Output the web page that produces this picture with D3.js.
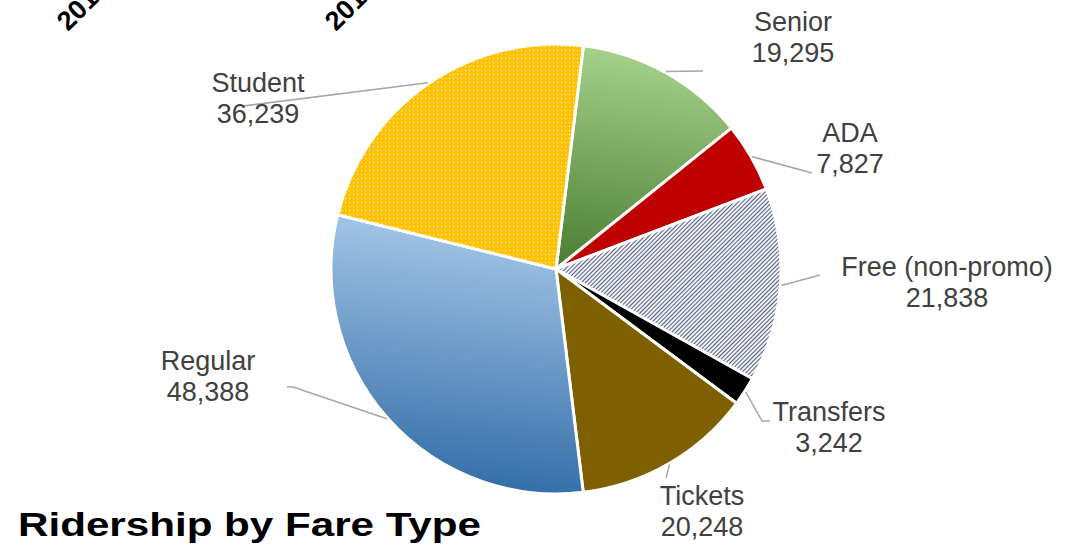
<!DOCTYPE html>
<html>
<head>
<meta charset="utf-8">
<script src="https://cdn.jsdelivr.net/npm/d3@7"></script>
<style>
  body { margin: 0; background: #fff; }
  svg { display: block; font-family: "Liberation Sans", Arial, sans-serif; }
</style>
</head>
<body>
<script>
// fare types, clockwise from the top
var fareTypes = ["Senior", "ADA", "Free (non-promo)", "Transfers", "Tickets", "Regular", "Student"];
var riders = [19295, 7827, 21838, 3242, 20248, 48388, 36239];
// axis labels of the chart above, cut off by the crop
var yearLabels = ["2016", "2017"];

var width = 1072, height = 553;
var cx = 556, cy = 269, radius = 225;

var svg = d3.select("body").append("svg")
    .attr("width", width)
    .attr("height", height);

var defs = svg.append("defs");

// gradients
function vGrad(id, top, bottom) {
  var g = defs.append("linearGradient").attr("id", id)
      .attr("x1", 0.2).attr("y1", 0).attr("x2", 0.1).attr("y2", 1);
  g.append("stop").attr("offset", "0%").attr("stop-color", top);
  g.append("stop").attr("offset", "100%").attr("stop-color", bottom);
}
vGrad("gSenior", "#a6d18a", "#4a7d31");
vGrad("gRegular", "#a3c6e8", "#2c67a3");

// student : gold with small white dots
var pDots = defs.append("pattern").attr("id", "pDots")
    .attr("width", 4).attr("height", 4).attr("patternUnits", "userSpaceOnUse");
pDots.append("rect").attr("width", 4).attr("height", 4).attr("fill", "#ffc000");
pDots.append("rect").attr("x", 1).attr("y", 1).attr("width", 1.2).attr("height", 1.2).attr("fill", "#fff3cc");

// free : fine navy hatch
var pHatch = defs.append("pattern").attr("id", "pHatch")
    .attr("width", 3).attr("height", 3).attr("patternUnits", "userSpaceOnUse")
    .attr("patternTransform", "rotate(45)");
pHatch.append("rect").attr("width", 3).attr("height", 3).attr("fill", "#eef0f4");
pHatch.append("rect").attr("width", 1).attr("height", 3).attr("fill", "#56627f");

var fills = d3.scaleOrdinal()
    .domain(fareTypes)
    .range(["url(#gSenior)", "#c00000", "url(#pHatch)", "#000000", "#7f6000", "url(#gRegular)", "url(#pDots)"]);

var startA = 7 * Math.PI / 180;
var pie = d3.pie().sort(null).value(function(d) { return d.value; })
    .startAngle(startA).endAngle(startA + 2 * Math.PI);

var data = fareTypes.map(function(n, i) { return {name: n, value: riders[i]}; });
var arcs = pie(data);

var arc = d3.arc().innerRadius(0).outerRadius(radius);

var g = svg.append("g").attr("transform", "translate(" + cx + "," + cy + ")");

g.selectAll(".slice")
    .data(arcs)
  .enter().append("path")
    .attr("class", "slice")
    .attr("d", arc)
    .attr("fill", function(d) { return fills(d.data.name); })
    .attr("stroke", "#fff")
    .attr("stroke-width", 3)
    .attr("stroke-linejoin", "round");

// label placement (relative to pie centre): leader line bend points + text anchor
var labelLayout = {
  "Senior":           {line: [[147, -198]], tx: 237, ty: -238},
  "ADA":              {line: [[256, -96]],  tx: 294, ty: -127},
  "Free (non-promo)": {line: [[264, 6]],    tx: 391, ty: 7},
  "Transfers":        {line: [[206, 152], [214, 152]], tx: 273, ty: 152},
  "Tickets":          {line: [[110, 209]],  tx: 146, ty: 236},
  "Regular":          {line: [[-263, 118], [-269, 118]], tx: -348, ty: 101},
  "Student":          {line: [[-313, -163]], tx: -298, ty: -177}
};

var fmt = d3.format(",");

arcs.forEach(function(d) {
  var lay = labelLayout[d.data.name];
  var mid = (d.startAngle + d.endAngle) / 2;
  var p0 = [Math.sin(mid) * (radius + 1), -Math.cos(mid) * (radius + 1)];
  var pts = [p0].concat(lay.line);
  g.append("path")
      .attr("d", d3.line()(pts))
      .attr("fill", "none")
      .attr("stroke", "#a6a6a6")
      .attr("stroke-width", 1.5);

  var t = g.append("text")
      .attr("x", lay.tx).attr("y", lay.ty)
      .attr("text-anchor", "middle")
      .attr("fill", "#404040")
      .style("font-size", "27px");
  t.append("tspan").attr("x", lay.tx).text(d.data.name);
  t.append("tspan").attr("x", lay.tx).attr("dy", 31).text(fmt(d.data.value));
});

// cut-off rotated year labels at the top
var yearX = d3.scalePoint().domain(yearLabels).range([68, 336]);
svg.selectAll(".year")
    .data(yearLabels)
  .enter().append("text")
    .attr("class", "year")
    .attr("transform", function(d) { return "translate(" + yearX(d) + ",32) rotate(-45)"; })
    .attr("fill", "#000")
    .style("font-size", "27px")
    .style("font-weight", "bold")
    .text(function(d) { return d; });

// title
svg.append("text")
    .attr("x", 18).attr("y", 536)
    .attr("textLength", 463)
    .attr("lengthAdjust", "spacingAndGlyphs")
    .attr("fill", "#000")
    .style("font-size", "33px")
    .style("font-weight", "bold")
    .text("Ridership by Fare Type");
</script>
</body>
</html>
